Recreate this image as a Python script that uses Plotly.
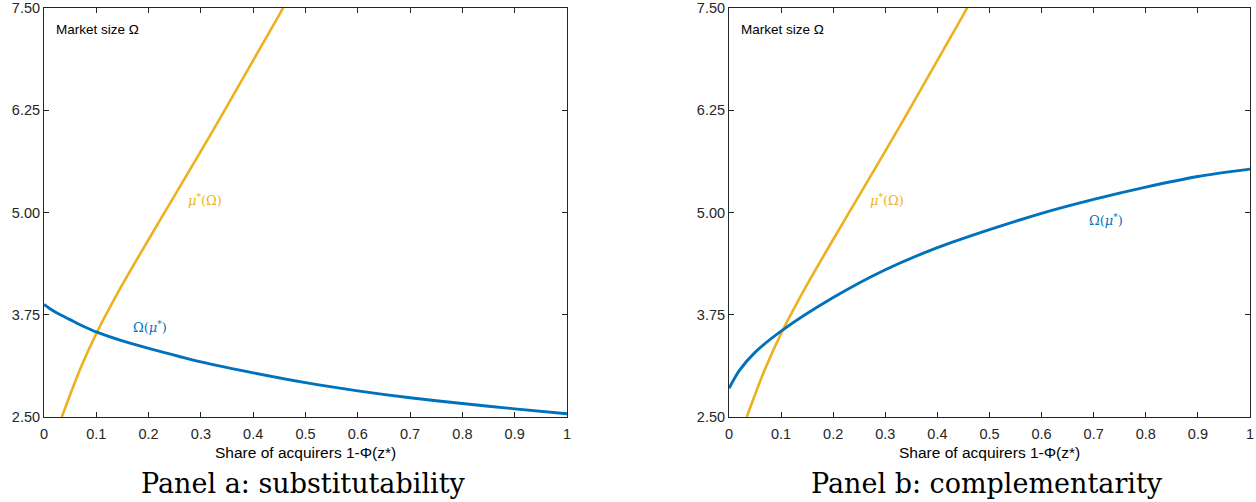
import plotly.graph_objects as go
from plotly.subplots import make_subplots

# --- data ---
# best-response curve mu*(Omega), same in both panels
mu_share = [0.034, 0.07, 0.10, 0.15, 0.20, 0.25, 0.30, 0.35, 0.40, 0.45, 0.47]
mu_omega = [2.50, 3.10, 3.52, 4.12, 4.67, 5.21, 5.75, 6.30, 6.86, 7.42, 7.65]

# Omega(mu*) panel a (substitutability)
sub_share = [0.0, 0.01, 0.025, 0.05, 0.075, 0.10, 0.15, 0.20, 0.30, 0.40, 0.50, 0.60, 0.70, 0.80, 0.90, 1.00]
sub_omega = [3.875, 3.83, 3.77, 3.69, 3.61, 3.54, 3.43, 3.34, 3.175, 3.04, 2.92, 2.82, 2.735, 2.665, 2.60, 2.54]

# Omega(mu*) panel b (complementarity)
com_share = [0.0, 0.02, 0.05, 0.10, 0.20, 0.30, 0.40, 0.50, 0.60, 0.70, 0.80, 0.90, 1.00]
com_omega = [2.85, 3.07, 3.29, 3.55, 3.96, 4.30, 4.57, 4.79, 4.99, 5.16, 5.31, 5.44, 5.53]

x_ticks = [0, 0.1, 0.2, 0.3, 0.4, 0.5, 0.6, 0.7, 0.8, 0.9, 1.0]
x_ticktext = ["0", "0.1", "0.2", "0.3", "0.4", "0.5", "0.6", "0.7", "0.8", "0.9", "1"]
y_ticks = [2.5, 3.75, 5.0, 6.25, 7.5]
y_ticktext = ["2.50", "3.75", "5.00", "6.25", "7.50"]

panel_titles = ["Panel a: substitutability", "Panel b: complementarity"]
x_title = "Share of acquirers 1-Φ(z*)"
y_label = "Market size Ω"

BLUE = "#0072BD"
ORANGE = "#EDB120"
AX = "#262626"
SANS = "Liberation Sans, Arial, sans-serif"

fig = make_subplots(rows=1, cols=2)

for col, (bx, by) in enumerate([(sub_share, sub_omega), (com_share, com_omega)], start=1):
    fig.add_trace(go.Scatter(x=mu_share, y=mu_omega, mode="lines",
                             line=dict(color=ORANGE, width=2.6, shape="spline", smoothing=0.8),
                             showlegend=False, hoverinfo="skip"), 1, col)
    fig.add_trace(go.Scatter(x=bx, y=by, mode="lines",
                             line=dict(color=BLUE, width=2.9, shape="spline", smoothing=0.8),
                             showlegend=False, hoverinfo="skip"), 1, col)

W, H = 1256, 502
ydom = [1 - 417 / H, 1 - 8 / H]
xdoms = [[44 / W, 567 / W], [729 / W, 1250 / W]]

tickfont = dict(family=SANS, size=14.5, color=AX)
for i, xd in enumerate(xdoms, start=1):
    fig.update_xaxes(domain=xd, range=[0, 1], tickvals=x_ticks, ticktext=x_ticktext,
                     ticks="inside", ticklen=5, tickcolor=AX, showline=True, linecolor=AX,
                     linewidth=1, mirror="ticks", showgrid=False, zeroline=False,
                     automargin=False, ticklabelstandoff=4, tickfont=tickfont, row=1, col=i)
    fig.update_yaxes(domain=ydom, range=[2.5, 7.5], tickvals=y_ticks, ticktext=y_ticktext,
                     ticks="inside", ticklen=5, tickcolor=AX, showline=True, linecolor=AX,
                     linewidth=1, mirror="ticks", showgrid=False, zeroline=False,
                     automargin=False, tickfont=tickfont, row=1, col=i)

anns = []
lab_font = dict(family="DejaVu Serif, serif", size=13)
for i, (xref, yref) in enumerate([("x", "y"), ("x2", "y2")]):
    xd = xdoms[i]
    anns.append(dict(x=0.02, y=7.24, xref=xref, yref=yref, text=y_label,
                     showarrow=False, xanchor="left", yanchor="middle",
                     font=dict(family=SANS, size=13.5, color="#000")))
    anns.append(dict(x=(xd[0] + xd[1]) / 2, y=1 - 452 / H, xref="paper", yref="paper", text=x_title,
                     showarrow=False, xanchor="center", yanchor="middle",
                     font=dict(family=SANS, size=15.5, color="#000")))
    anns.append(dict(x=(xd[0] + xd[1]) / 2 - 2 / W, y=1 - 483 / H, xref="paper", yref="paper", text=panel_titles[i],
                     showarrow=False, xanchor="center", yanchor="middle",
                     font=dict(family="DejaVu Serif, serif", size=27, color="#000")))

anns.append(dict(x=0.308, y=5.15, xref="x", yref="y", text="<i>μ</i><sup>*</sup>(Ω)", showarrow=False,
                 font=dict(lab_font, color=ORANGE)))
anns.append(dict(x=0.203, y=3.60, xref="x", yref="y", text="Ω(<i>μ</i><sup>*</sup>)", showarrow=False,
                 font=dict(lab_font, color=BLUE)))
anns.append(dict(x=0.303, y=5.15, xref="x2", yref="y2", text="<i>μ</i><sup>*</sup>(Ω)", showarrow=False,
                 font=dict(lab_font, color=ORANGE)))
anns.append(dict(x=0.724, y=4.91, xref="x2", yref="y2", text="Ω(<i>μ</i><sup>*</sup>)", showarrow=False,
                 font=dict(lab_font, color=BLUE)))

fig.update_layout(width=W, height=H, margin=dict(l=0, r=0, t=0, b=0),
                  plot_bgcolor="white", paper_bgcolor="white", annotations=anns)

fig.write_html("out.html")
